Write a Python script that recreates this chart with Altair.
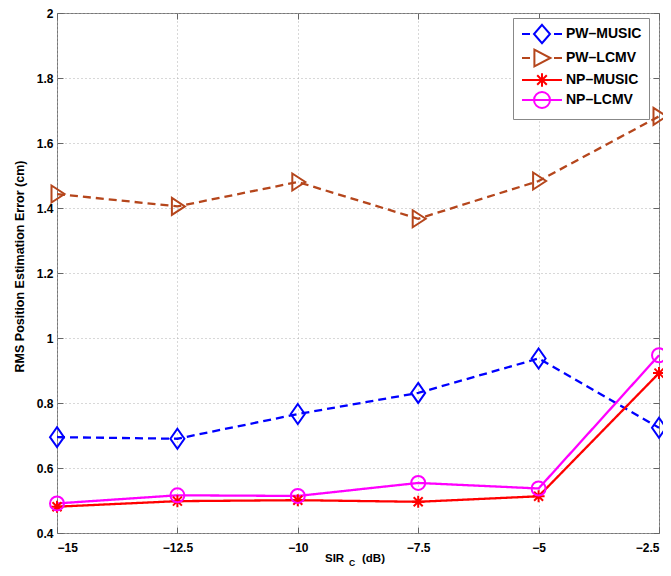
import altair as alt
import pandas as pd

# ---------------- data ----------------
sir_db = [-15, -12.5, -10, -7.5, -5, -2.5]
series_names = ["PW–MUSIC", "PW–LCMV", "NP–MUSIC", "NP–LCMV"]
pw_music = [0.695, 0.690, 0.766, 0.831, 0.937, 0.724]
pw_lcmv = [1.443, 1.405, 1.480, 1.367, 1.483, 1.682]
np_music = [0.481, 0.498, 0.501, 0.496, 0.513, 0.892]
np_lcmv = [0.491, 0.516, 0.514, 0.554, 0.537, 0.947]
y_ticks = [0.4, 0.6, 0.8, 1.0, 1.2, 1.4, 1.6, 1.8, 2.0]
y_title = "RMS Position Estimation Error (cm)"
x_title_parts = ["SIR", "C", "(dB)"]

# ---------------- styles ----------------
FONT = "Liberation Sans"
colors = ["#0000ff", "#b5461c", "#ff0000", "#ff00ff"]
dash_patterns = [[8, 5], [8, 5], [1, 0], [1, 0]]
marker_paths = [
    "M0,-1L0.7,0L0,1L-0.7,0Z",
    "M-0.55,-0.85L0.75,0L-0.55,0.85Z",
    "M-0.6,0L0.6,0M0,-0.6L0,0.6M-0.45,-0.45L0.45,0.45M-0.45,0.45L0.45,-0.45",
    "M-0.7,0A0.7,0.7,0,1,1,0.7,0A0.7,0.7,0,1,1,-0.7,0Z",
]
legend_paths = [
    "M-2.5,0L-1.5,0M1.5,0L2.5,0M0,-1.15L1.0,0L0,1.15L-1.0,0Z",
    "M-2.5,0L-1.5,0M1.5,0L2.5,0M-0.95,-1.05L1.05,0L-0.95,1.05Z",
    "M-2.5,0L2.5,0M0,-0.85L0,0.85M-0.6,-0.6L0.6,0.6M-0.6,0.6L0.6,-0.6",
    "M-2.5,0L2.5,0M-1.0,0A1.0,1.0,0,1,1,1.0,0A1.0,1.0,0,1,1,-1.0,0Z",
]

rows = []
for name, vals in zip(series_names, [pw_music, pw_lcmv, np_music, np_lcmv]):
    for s, v in zip(sir_db, vals):
        rows.append({"sir": s, "rms": v, "series": name})
df = pd.DataFrame(rows)

x_scale = alt.Scale(domain=[-15, -2.5], nice=False, zero=False)
y_scale = alt.Scale(domain=[0.4, 2.0], nice=False, zero=False)
color_scale = alt.Scale(domain=series_names, range=colors)

lab = dict(labelFont=FONT, labelFontWeight="bold", labelFontSize=12, labelColor="black")
common_axis = dict(offset=-6, tickSize=6, domain=False, tickColor="#666666")

x_axis = alt.Axis(values=sir_db, format=".3~g", grid=True, gridDash=[1, 3], gridColor="#b0b0b0",
                  labelPadding=9, title=None,
                  labelExpr="datum.value == -2.5 ? datum.label + '\u00a0\u00a0\u00a0\u00a0' : datum.label",
                  **common_axis, **lab)
y_axis = alt.Axis(values=y_ticks, format=".2~g", grid=True, gridDash=[1, 3], gridColor="#b0b0b0",
                  labelPadding=4, title=y_title, titleFont=FONT, titleFontWeight="bold",
                  titleFontSize=12.5, titleColor="black", titlePadding=10, titleY=253,
                  **common_axis, **lab)
top_axis = alt.Axis(values=sir_db, orient="top", labels=False, grid=False, title=None, **common_axis)
right_axis = alt.Axis(values=y_ticks, orient="right", labels=False, grid=False, title=None, **common_axis)

base = alt.Chart(df)

lines = base.mark_line(strokeWidth=2.3).encode(
    x=alt.X("sir:Q", scale=x_scale, axis=x_axis),
    y=alt.Y("rms:Q", scale=y_scale, axis=y_axis),
    color=alt.Color("series:N", scale=color_scale, legend=None),
    strokeDash=alt.StrokeDash("series:N", scale=alt.Scale(domain=series_names, range=dash_patterns), legend=None),
)

points = base.mark_point(filled=False, size=400, strokeWidth=2, opacity=1).encode(
    x=alt.X("sir:Q", scale=x_scale, axis=None),
    y=alt.Y("rms:Q", scale=y_scale, axis=None),
    color=alt.Color("series:N", scale=color_scale, legend=None),
    shape=alt.Shape("series:N", scale=alt.Scale(domain=series_names, range=marker_paths), legend=None),
)

legend_def = alt.Legend(
    title=None, orient="none", legendX=456, legendY=5, padding=7,
    strokeColor="#888888", fillColor="white", symbolSize=256, symbolStrokeWidth=2,
    symbolOffset=13, labelOffset=15, rowPadding=-3,
    labelFont=FONT, labelFontSize=14, labelFontWeight="bold", labelColor="black",
)

legend_layer = base.transform_filter("datum.rms > 100").mark_point(
    filled=False, strokeWidth=2, opacity=1
).encode(
    x=alt.X("sir:Q", scale=x_scale, axis=top_axis),
    y=alt.Y("rms:Q", scale=y_scale, axis=right_axis),
    color=alt.Color("series:N", scale=color_scale, legend=legend_def),
    shape=alt.Shape("series:N", scale=alt.Scale(domain=series_names, range=legend_paths), legend=legend_def),
)

def title_text(txt, px, py, size):
    return alt.Chart(pd.DataFrame({"t": [txt]})).mark_text(
        align="left", baseline="middle", font=FONT, fontWeight="bold", fontSize=size, color="black"
    ).encode(x=alt.value(px), y=alt.value(py), text="t:N")

t1 = title_text(x_title_parts[0], 268, 546, 11.5)
t2 = title_text(x_title_parts[1], 292, 550, 8.5)
t3 = title_text(x_title_parts[2], 305, 546, 11.5)

chart = alt.layer(lines, points, legend_layer, t1, t2, t3).resolve_scale(
    color="independent", shape="independent", strokeDash="independent"
).resolve_axis(x="independent", y="independent").properties(
    width=602, height=520,
    autosize=alt.AutoSizeParams(type="none"),
    padding={"left": 49, "top": 5, "right": 4, "bottom": 35},
).configure_view(stroke="#777777", strokeWidth=1)

chart.save("out.html", embed_options={"renderer": "svg", "actions": False})
